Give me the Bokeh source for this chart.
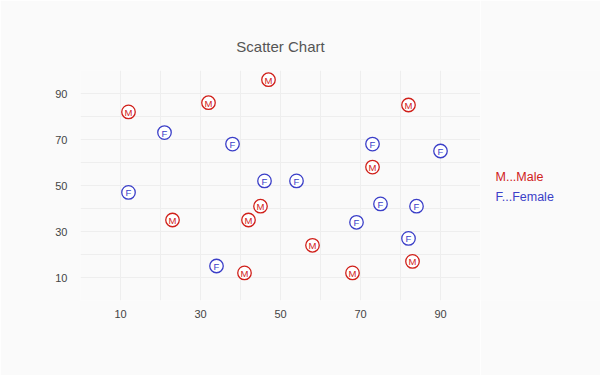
from bokeh.plotting import figure
from bokeh.layouts import row
from bokeh.models import ColumnDataSource, FixedTicker
from bokeh.core.properties import value
from bokeh.embed import file_html
from bokeh.resources import INLINE

title_text = "Scatter Chart"
series_names = ["M...Male", "F...Female"]
series_letters = ["M", "F"]
series_colors = ["#d0201a", "#3b3fc8"]

male_x = [47, 32, 12, 82, 73, 23, 42, 45, 58, 41, 68, 83]
male_y = [96, 86, 82, 85, 58, 35, 35, 41, 24, 12, 12, 17]
female_x = [12, 21, 38, 46, 54, 34, 73, 90, 75, 84, 69, 82]
female_y = [47, 73, 68, 52, 52, 15, 68, 65, 42, 41, 34, 27]

x_ticks = [10, 30, 50, 70, 90]
y_ticks = [10, 30, 50, 70, 90]
minor_ticks = [20, 40, 60, 80]

BG = "#fafafa"
FONT = "Liberation Sans"

p = figure(width=480, height=375, x_range=(0, 100), y_range=(0, 100),
           output_backend="svg", toolbar_location=None,
           min_border_left=80, min_border_right=0,
           min_border_top=70, min_border_bottom=75)
p.background_fill_color = BG
p.border_fill_color = BG
p.outline_line_color = None

p.title.text = title_text
p.title.align = "center"
p.title.text_font = FONT
p.title.text_font_size = "15px"
p.title.text_font_style = "normal"
p.title.text_color = "#555555"
p.title.standoff = 31

for ax in (p.xaxis[0], p.yaxis[0]):
    ax.axis_line_color = None
    ax.major_tick_line_color = None
    ax.minor_tick_line_color = None
    ax.major_label_text_color = "#444444"
    ax.major_label_text_font = FONT
    ax.major_label_text_font_size = "11px"
p.xaxis[0].ticker = FixedTicker(ticks=x_ticks, minor_ticks=minor_ticks)
p.yaxis[0].ticker = FixedTicker(ticks=y_ticks, minor_ticks=minor_ticks)
p.xaxis[0].major_label_standoff = 3
p.yaxis[0].major_label_standoff = 7

for g in (p.xgrid[0], p.ygrid[0]):
    g.grid_line_color = "#eeeeee"
    g.minor_grid_line_color = "#eeeeee"

data = [(male_x, male_y), (female_x, female_y)]
for (xs, ys), letter, color in zip(data, series_letters, series_colors):
    src = ColumnDataSource(dict(x=xs, y=ys, t=[letter] * len(xs)))
    p.scatter("x", "y", source=src, size=13.5, fill_color="white",
              line_color=color, line_width=1.3)
    p.text("x", "y", text="t", source=src, text_align="center",
           text_baseline="middle", text_color=color,
           text_font=value(FONT), text_font_size="9.5px", y_offset=0.5)

# legend panel: a second figure sharing the vertical scale
lg = figure(width=120, height=375, x_range=(0, 120), y_range=p.y_range,
            output_backend="svg", toolbar_location=None,
            x_axis_type=None, y_axis_type=None,
            min_border_left=0, min_border_right=0,
            min_border_top=70, min_border_bottom=75)
lg.background_fill_color = BG
lg.border_fill_color = BG
lg.outline_line_color = None
lg.grid.visible = False
legend_src = ColumnDataSource(dict(x=[15, 15], y=[53.9, 45.2],
                                   t=series_names, c=series_colors))
lg.text("x", "y", text="t", source=legend_src, text_color="c",
        text_align="left", text_baseline="middle",
        text_font=value(FONT), text_font_size="12.5px")

layout = row(p, lg, spacing=0)
open("out.html", "w").write(file_html(layout, INLINE))
